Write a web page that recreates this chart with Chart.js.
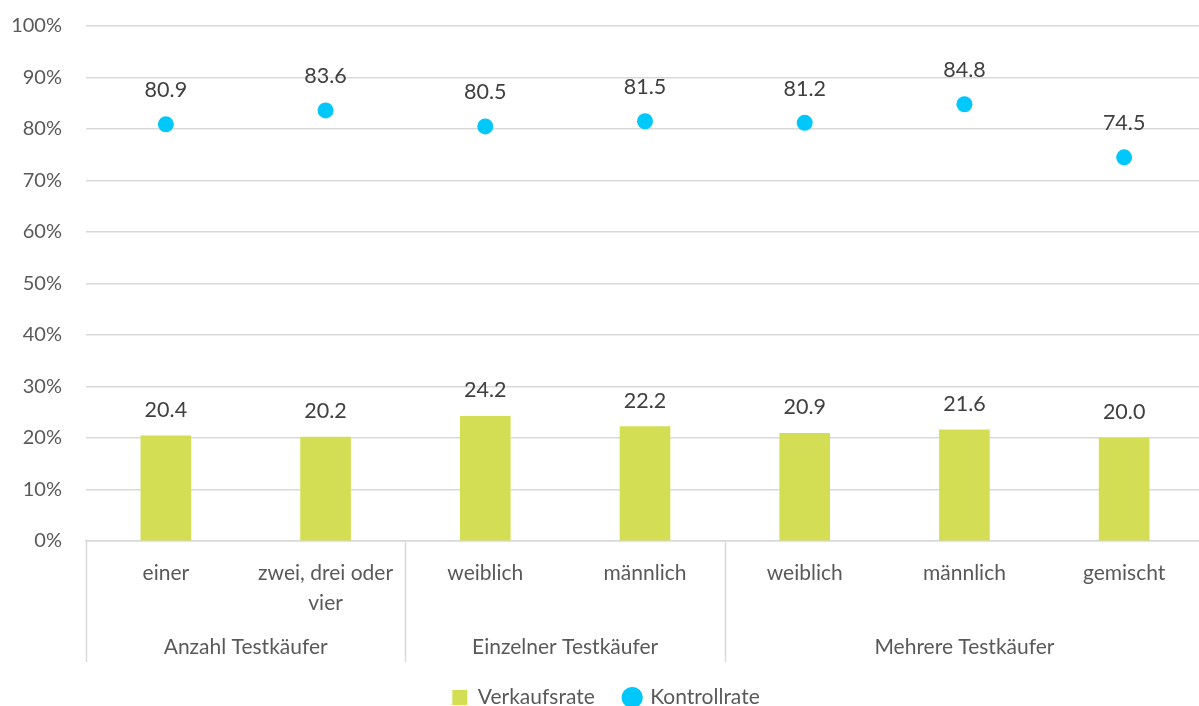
<!DOCTYPE html>
<html>
<head>
<meta charset="utf-8">
<script src="https://cdn.jsdelivr.net/npm/chart.js@4/dist/chart.umd.min.js"></script>
<style>
    html, body { margin: 0; padding: 0; background: #fff; overflow: hidden; }
    #wrap { width: 1212px; height: 706px; }
</style>
</head>
<body>
<div id="wrap"><canvas id="chart" width="1212" height="706"></canvas></div>
<script>
// Daten
var categories = [['einer'], ['zwei, drei oder', 'vier'], ['weiblich'], ['männlich'], ['weiblich'], ['männlich'], ['gemischt']];
var groups = ['Anzahl Testkäufer', 'Einzelner Testkäufer', 'Mehrere Testkäufer'];
var groupStart = [0, 2, 4];
var groupEnd = [1, 3, 6];
var verkaufsrate = [20.4, 20.2, 24.2, 22.2, 20.9, 21.6, 20.0];
var kontrollrate = [80.9, 83.6, 80.5, 81.5, 81.2, 84.8, 74.5];

var FONT = 'Lato, "Open Sans", sans-serif';
var tickColor = '#595959';
var lineColor = '#D9D9D9';

// Werte über Balken und Punkten
var valueLabels = {
    id: 'valueLabels',
    afterDatasetsDraw: function (chart) {
        var ctx = chart.ctx;
        ctx.save();
        ctx.font = '21.5px ' + FONT;
        ctx.fillStyle = '#404040';
        ctx.textAlign = 'center';
        ctx.textBaseline = 'middle';
        chart.data.datasets.forEach(function (ds, i) {
            var meta = chart.getDatasetMeta(i);
            var off = ds.type === 'line' ? 34 : 26;
            meta.data.forEach(function (el, j) {
                ctx.fillText(ds.data[j].toFixed(1), el.x, el.y - off);
            });
        });
        ctx.restore();
    }
};

// Gruppenbeschriftung und Trennlinien unter der x-Achse
var groupAxis = {
    id: 'groupAxis',
    afterDraw: function (chart) {
        var ctx = chart.ctx;
        var x = chart.scales.x;
        var top = chart.chartArea.bottom;
        var bottom = top + 121;
        ctx.save();
        ctx.strokeStyle = lineColor;
        ctx.lineWidth = 1.5;
        var cuts = [-0.5, 1.5, 3.5, 6.5];
        cuts.forEach(function (c) {
            var px = Math.round(x.getPixelForValue(c)) + 0.5;
            ctx.beginPath();
            ctx.moveTo(px, top);
            ctx.lineTo(px, bottom);
            ctx.stroke();
        });
        ctx.font = '21px ' + FONT;
        ctx.fillStyle = tickColor;
        ctx.textAlign = 'center';
        ctx.textBaseline = 'middle';
        groups.forEach(function (g, i) {
            var cx = (x.getPixelForValue(groupStart[i]) + x.getPixelForValue(groupEnd[i])) / 2;
            ctx.fillText(g, cx, top + 106);
        });
        ctx.restore();
    }
};

var ctx = document.getElementById('chart').getContext('2d');
new Chart(ctx, {
    data: {
        labels: categories,
        datasets: [
            {
                type: 'line',
                label: 'Kontrollrate',
                data: kontrollrate,
                showLine: false,
                pointRadius: 8,
                pointHoverRadius: 8,
                pointStyle: 'circle',
                backgroundColor: '#00C8FA',
                borderColor: '#00C8FA',
                borderWidth: 0,
                order: 0
            },
            {
                type: 'bar',
                label: 'Verkaufsrate',
                data: verkaufsrate,
                backgroundColor: '#D4DE55',
                barThickness: 50,
                pointStyle: 'rect',
                order: 1
            }
        ]
    },
    options: {
        responsive: false,
        animation: false,
        layout: { padding: { top: 26, right: 0, left: 0, bottom: -12 } },
        plugins: {
            tooltip: { enabled: false },
            legend: {
                position: 'bottom',
                reverse: true,
                labels: {
                    usePointStyle: true,
                    boxWidth: 15,
                    boxHeight: 15,
                    padding: 30,
                    color: tickColor,
                    font: { family: FONT, size: 21 }
                }
            }
        },
        scales: {
            x: {
                grid: { display: false, drawTicks: false },
                border: { display: true, color: lineColor, width: 1.5 },
                ticks: {
                    color: tickColor,
                    padding: 18,
                    maxRotation: 0,
                    autoSkip: false,
                    font: { family: FONT, size: 21, lineHeight: 1.4 }
                },
                afterFit: function (scale) { scale.height = 116; scale.paddingTop = 0; scale.paddingBottom = 0; }
            },
            y: {
                min: 0,
                max: 100,
                border: { display: false },
                grid: { color: lineColor, lineWidth: 1.5, drawTicks: false },
                ticks: {
                    stepSize: 10,
                    padding: 24,
                    color: tickColor,
                    font: { family: FONT, size: 20 },
                    callback: function (v) { return v + '%'; }
                },
                afterFit: function (scale) { scale.width = 86; scale.paddingTop = 0; scale.paddingBottom = 0; }
            }
        }
    },
    plugins: [valueLabels, groupAxis]
});
</script>
</body>
</html>
